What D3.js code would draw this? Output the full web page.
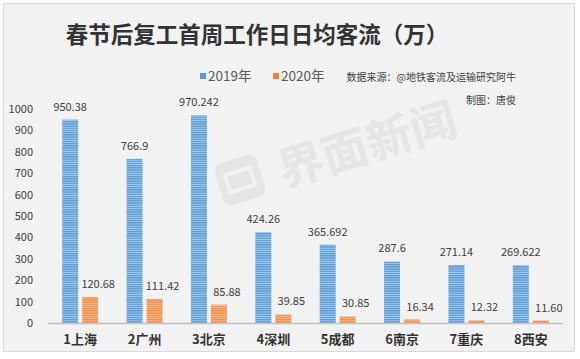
<!DOCTYPE html>
<html>
<head>
<meta charset="utf-8">
<script src="https://cdn.jsdelivr.net/npm/d3@7"></script>
<style>
  body { margin: 0; background: #ffffff; }
  text { font-family: "Microsoft YaHei", "Noto Sans CJK SC", sans-serif; }
</style>
</head>
<body>
<script>
 /* chart data */
 var cities = ["1上海", "2广州", "3北京", "4深圳", "5成都", "6南京", "7重庆", "8西安"];
 var values2019 = [950.38, 766.9, 970.242, 424.26, 365.692, 287.6, 271.14, 269.622];
 var values2020 = [120.68, 111.42, 85.88, 39.85, 30.85, 16.34, 12.32, 11.60];
 var labels2019 = ["950.38", "766.9", "970.242", "424.26", "365.692", "287.6", "271.14", "269.622"];
 var labels2020 = ["120.68", "111.42", "85.88", "39.85", "30.85", "16.34", "12.32", "11.60"];
 var seriesNames = ["2019年", "2020年"];
 var yTicks = [0, 100, 200, 300, 400, 500, 600, 700, 800, 900, 1000];

 var W = 580, H = 359;
 var margin = {top: 109, right: 17, bottom: 36, left: 48};

 var svg = d3.select("body").append("svg")
   .attr("width", W)
   .attr("height", H);

 // stripes for the bars
 var defs = svg.append("defs");
 function stripes(id, base, light) {
   var p = defs.append("pattern")
     .attr("id", id)
     .attr("patternUnits", "userSpaceOnUse")
     .attr("width", 4).attr("height", 2.2);
   p.append("rect").attr("width", 4).attr("height", 2.2).attr("fill", base);
   p.append("rect").attr("y", 1.3).attr("width", 4).attr("height", 0.9).attr("fill", light);
 }
 stripes("blueStripe", "#5b9bd5", "#a8cbec");
 stripes("orangeStripe", "#f08a44", "#f8c29a");

 // frame
 svg.append("rect")
   .attr("x", 3.5).attr("y", 3.5)
   .attr("width", 571).attr("height", 348)
   .attr("fill", "#f2f2f2")
   .attr("stroke", "#d9d9d9");

 // watermark
 var wm = svg.append("g")
   .attr("transform", "translate(240,180) rotate(-17)")
   .attr("opacity", 0.7);
 wm.append("rect")
   .attr("x", -22).attr("y", -22).attr("width", 44).attr("height", 44)
   .attr("rx", 9).attr("fill", "#e0e0e0");
 wm.append("rect")
   .attr("x", -13).attr("y", -9).attr("width", 26).attr("height", 18)
   .attr("fill", "none").attr("stroke", "#f2f2f2").attr("stroke-width", 4);
 wm.append("text")
   .attr("x", 40).attr("y", 20)
   .attr("font-size", 46).attr("font-weight", "bold")
   .attr("fill", "#e0e0e0")
   .text("界面新闻");

 var x = d3.scaleBand()
   .domain(cities)
   .range([margin.left, W - margin.right]);

 var y = d3.scaleLinear()
   .domain([0, 1000])
   .range([H - margin.bottom, margin.top]);

 var barW = 16, gap = 4;

 // y axis labels
 svg.append("g").selectAll("text")
   .data(yTicks)
   .join("text")
   .attr("x", 33)
   .attr("y", function(d){ return y(d) + 4; })
   .attr("text-anchor", "end")
   .attr("font-size", 11)
   .attr("fill", "#404040")
   .text(function(d){ return d; });

 // bars
 var groups = svg.append("g").selectAll("g")
   .data(cities)
   .join("g");

 groups.append("rect")
   .attr("x", function(d){ return x(d) + x.bandwidth()/2 - gap/2 - barW; })
   .attr("y", function(d, i){ return y(values2019[i]); })
   .attr("width", barW)
   .attr("height", function(d, i){ return y(0) - y(values2019[i]); })
   .attr("fill", "url(#blueStripe)");

 groups.append("rect")
   .attr("x", function(d){ return x(d) + x.bandwidth()/2 + gap/2; })
   .attr("y", function(d, i){ return y(values2020[i]); })
   .attr("width", barW)
   .attr("height", function(d, i){ return y(0) - y(values2020[i]); })
   .attr("fill", "url(#orangeStripe)");

 // value labels
 groups.append("text")
   .attr("x", function(d){ return x(d) + x.bandwidth()/2 - gap/2 - barW/2; })
   .attr("y", function(d, i){ return y(values2019[i]) - 9; })
   .attr("text-anchor", "middle")
   .attr("font-size", 11)
   .attr("fill", "#404040")
   .text(function(d, i){ return labels2019[i]; });

 groups.append("text")
   .attr("x", function(d){ return x(d) + x.bandwidth()/2 + gap/2 + barW/2 + 8; })
   .attr("y", function(d, i){ return y(values2020[i]) - 9; })
   .attr("text-anchor", "middle")
   .attr("font-size", 11)
   .attr("fill", "#404040")
   .text(function(d, i){ return labels2020[i]; });

 // baseline
 svg.append("line")
   .attr("x1", margin.left).attr("x2", W - margin.right)
   .attr("y1", y(0) + 0.5).attr("y2", y(0) + 0.5)
   .attr("stroke", "#bfbfbf").attr("stroke-width", 1.5);

 // category labels
 groups.append("text")
   .attr("x", function(d){ return x(d) + x.bandwidth()/2; })
   .attr("y", 344)
   .attr("text-anchor", "middle")
   .attr("font-size", 13)
   .attr("font-weight", "bold")
   .attr("fill", "#333333")
   .text(function(d){ return d; });

 // title
 svg.append("text")
   .attr("x", 257).attr("y", 43)
   .attr("text-anchor", "middle")
   .attr("font-size", 22.5)
   .attr("font-weight", "bold")
   .attr("fill", "#333333")
   .text("春节后复工首周工作日日均客流（万）");

 // legend
 var legendX = [200, 273];
 var legendColors = ["#5b9bd5", "#ed7d31"];
 seriesNames.forEach(function(name, i){
   svg.append("rect")
     .attr("x", legendX[i]).attr("y", 73)
     .attr("width", 6).attr("height", 6)
     .attr("fill", legendColors[i]);
   svg.append("text")
     .attr("x", legendX[i] + 8).attr("y", 81)
     .attr("font-size", 13.5)
     .attr("fill", "#595959")
     .text(name);
 });

 // source notes
 svg.append("text")
   .attr("x", 516).attr("y", 81)
   .attr("text-anchor", "end")
   .attr("font-size", 10)
   .attr("fill", "#404040")
   .text("数据来源：@地铁客流及运输研究阿牛");

 svg.append("text")
   .attr("x", 516).attr("y", 104)
   .attr("text-anchor", "end")
   .attr("font-size", 10)
   .attr("fill", "#404040")
   .text("制图：唐俊");
</script>
</body>
</html>
